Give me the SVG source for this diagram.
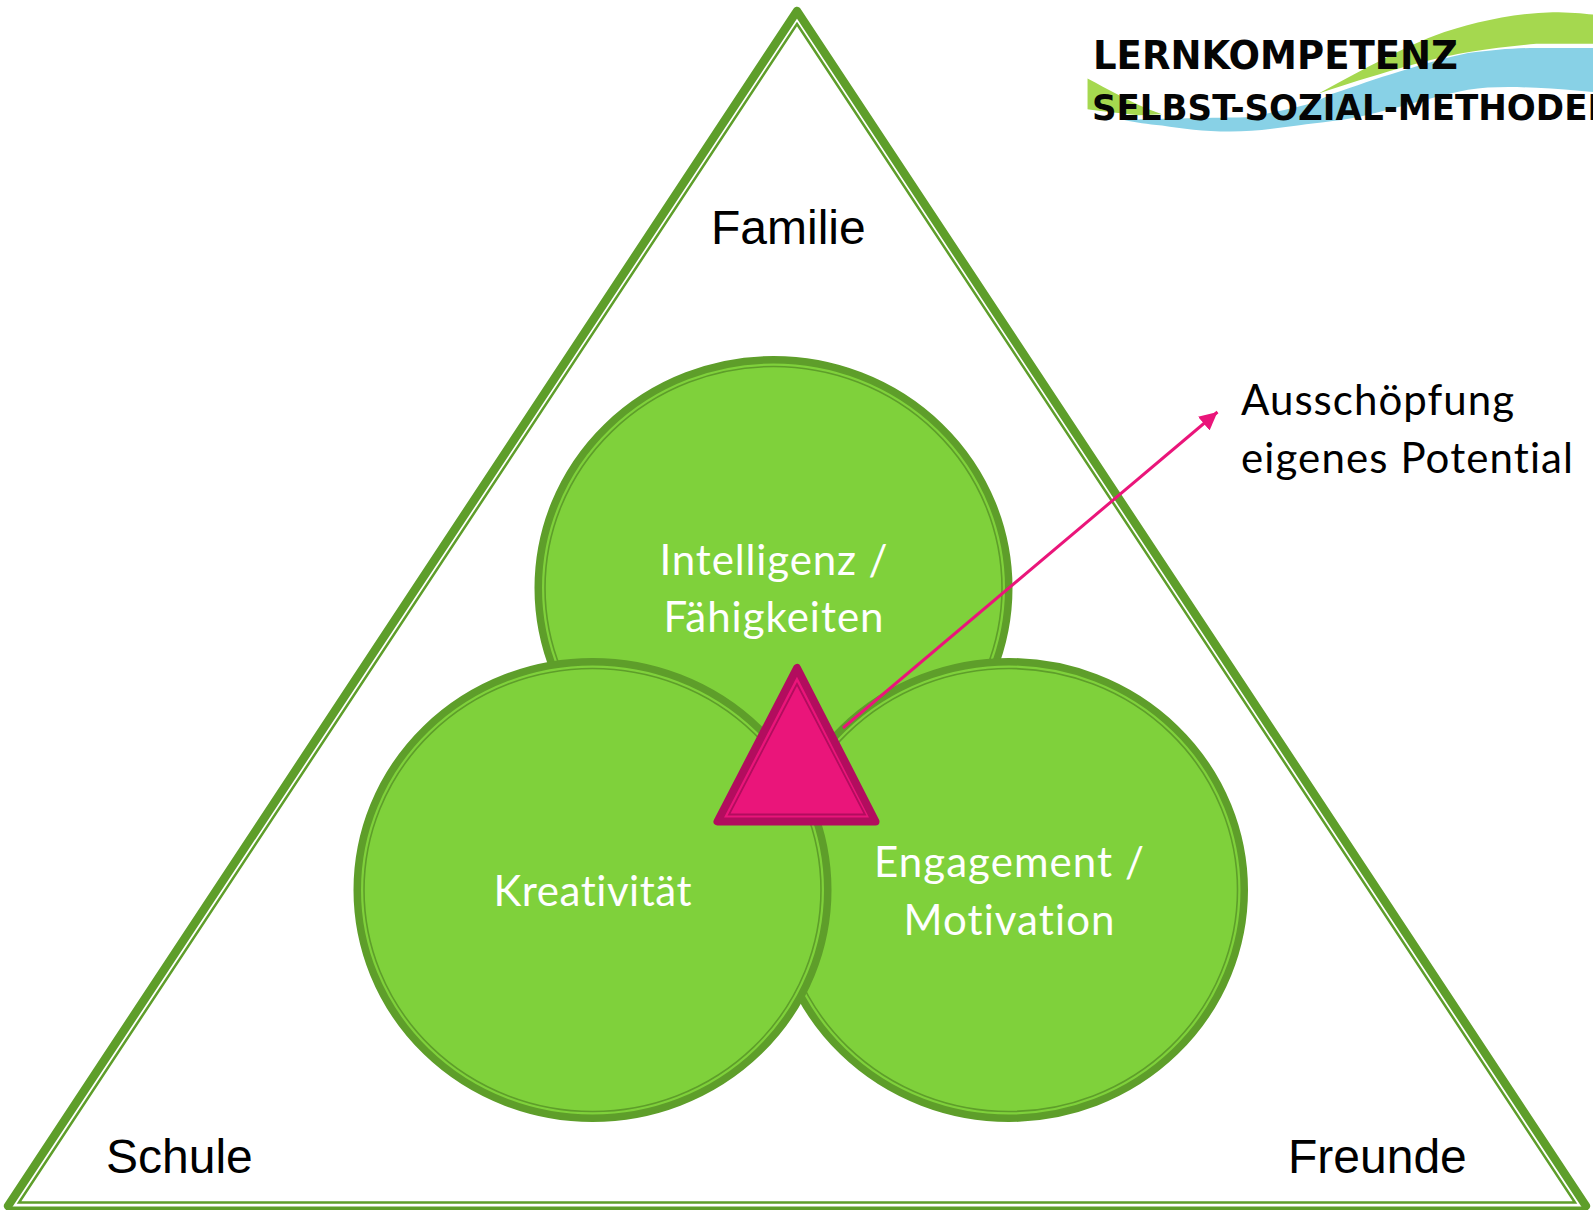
<svg xmlns="http://www.w3.org/2000/svg" width="1593" height="1210" viewBox="0 0 1593 1210">
<style>
.sans{font-family:"Liberation Sans",Arial,sans-serif;font-size:48px;fill:#000}
.cal{font-family:Lato,"Open Sans",sans-serif;font-size:42px;font-variant-ligatures:none}
.w{fill:#fff;text-anchor:middle}
.logo{font-family:"DejaVu Sans",Verdana,sans-serif;font-weight:700;fill:#050505}
.outer{fill:none;stroke:#5e9e2a;stroke-width:8.500;stroke-linejoin:round;stroke-linecap:round}
.inner{fill:none;stroke:#5e9e2a;stroke-width:2.500}
.c{fill:#7fd13b;stroke:#5e9e2a;stroke-width:7.500}
.ci{fill:none;stroke:#5e9e2a;stroke-width:1.600}
</style>
<defs>
<marker id="ah" markerUnits="userSpaceOnUse" markerWidth="20" markerHeight="20" refX="18" refY="9" orient="auto"><path d="M0 0L18 9L0 18Z" fill="#ea157a"/></marker>
</defs>
<rect width="1593" height="1210" fill="#fff"/>
<g id="logo">
<g transform="translate(1060 0) scale(1.02) translate(-1060 0)">
<path d="M1313 92C1350 72 1393 48 1427 35C1460 23 1503 13 1543 12C1565 12 1583 14 1593 16L1593 43L1527 43C1500 45 1470 49 1450 53C1420 59 1393 67 1393 67C1365 75 1340 83 1313 92Z" fill="#a5d84f"/>
<path d="M1327 92C1350 84 1370 77 1393 70C1420 62 1440 56 1460 52C1485 49 1505 47 1527 47L1593 47L1593 91C1570 89 1550 87 1527 86C1500 85 1480 85 1460 88C1425 95 1395 105 1360 113C1340 118 1315 120 1293 123C1270 126 1250 129 1227 129C1200 129 1180 126 1160 123C1145 122 1135 120 1123 118C1150 116 1200 116 1243 115C1270 110 1295 105 1310 100Z" fill="#88d1e6"/>
<path d="M1087 77C1097 82 1107 88 1117 93C1130 100 1145 107 1160 112L1137 113C1120 111 1100 109 1087 107Z" fill="#a5d84f"/>
</g>
<text class="logo" x="1093" y="69" font-size="39" textLength="365" lengthAdjust="spacingAndGlyphs">LERNKOMPETENZ</text>
<text class="logo" x="1092" y="119.500" font-size="35" textLength="524" lengthAdjust="spacingAndGlyphs">SELBST-SOZIAL-METHODEN</text>
</g>
<g id="umfeld">
<path class="outer" d="M8 1206L797 11L1586 1206"/>
<rect x="6" y="1206.500" width="1582" height="3.500" fill="#5e9e2a"/>
<path class="inner" d="M797 24L1575 1202.500H19Z"/>
<text class="sans" x="711" y="244">Familie</text>
<text class="sans" x="106" y="1173">Schule</text>
<text class="sans" x="1288" y="1173">Freunde</text>
</g>
<g id="intelligenz">
<ellipse class="c" cx="773.500" cy="588" rx="235.250" ry="228.250"/>
<ellipse class="ci" cx="773.500" cy="588" rx="228.500" ry="221.500"/>
<text class="cal w" x="773.500" y="575" textLength="228">Intelligenz /</text>
<text class="cal w" x="773.500" y="632" textLength="220">Fähigkeiten</text>
</g>
<g id="engagement">
<ellipse class="c" cx="1009" cy="890" rx="235.250" ry="228.250"/>
<ellipse class="ci" cx="1009" cy="890" rx="228.500" ry="221.500"/>
<text class="cal w" x="1009" y="877" textLength="270">Engagement /</text>
<text class="cal w" x="1009" y="935" textLength="211">Motivation</text>
</g>
<g id="kreativitaet">
<ellipse class="c" cx="592.500" cy="890" rx="235.250" ry="228.250"/>
<ellipse class="ci" cx="592.500" cy="890" rx="228.500" ry="221.500"/>
<text class="cal w" x="592.500" y="906" textLength="198">Kreativität</text>
</g>
<g id="connectors">
<path d="M843 728L1217.500 412" fill="none" stroke="#ea157a" stroke-width="3" marker-end="url(#ah)"/>
</g>
<g id="potenzial">
<path d="M797 668L717.500 821.500H875.500Z" fill="#ea157a" stroke="#b20d5e" stroke-width="8" stroke-linejoin="round"/>
<path d="M797 684L729 814.500H865Z" fill="none" stroke="#b20d5e" stroke-width="1.800"/>
</g>
<g id="ausschoepfung">
<text class="cal" x="1241" y="415" fill="#000" textLength="273">Ausschöpfung</text>
<text class="cal" x="1241" y="473" fill="#000" textLength="332">eigenes Potential</text>
</g>
</svg>
